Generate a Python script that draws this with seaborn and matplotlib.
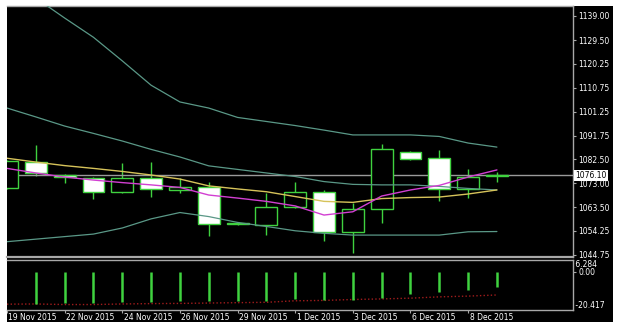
import numpy as np
import pandas as pd
import matplotlib
matplotlib.use("Agg")
import matplotlib.pyplot as plt
import matplotlib.transforms as mtrans
from matplotlib.patches import Rectangle
import seaborn as sns

# ---------------- data ----------------
dates = ["19 Nov 2015", "20 Nov 2015", "22 Nov 2015", "23 Nov 2015", "24 Nov 2015",
         "25 Nov 2015", "26 Nov 2015", "27 Nov 2015", "29 Nov 2015", "30 Nov 2015",
         "1 Dec 2015", "2 Dec 2015", "3 Dec 2015", "4 Dec 2015", "6 Dec 2015",
         "7 Dec 2015", "8 Dec 2015", "9 Dec 2015"]
opens  = [1071.1, 1081.5, 1076.3, 1075.0, 1069.7, 1075.0, 1070.4, 1071.5, 1057.3,
          1056.6, 1063.8, 1069.7, 1053.7, 1062.9, 1085.3, 1082.9, 1070.8, 1076.0]
highs  = [1082.3, 1088.1, 1076.5, 1075.5, 1081.2, 1081.5, 1075.0, 1073.7, 1057.8,
          1069.3, 1073.7, 1070.4, 1065.1, 1088.5, 1085.6, 1086.2, 1078.7, 1077.6]
lows   = [1070.6, 1075.8, 1073.0, 1066.7, 1069.1, 1067.5, 1069.3, 1052.4, 1056.6,
          1052.6, 1063.2, 1050.4, 1045.4, 1057.3, 1082.4, 1066.1, 1067.4, 1073.7]
closes = [1081.8, 1077.2, 1075.4, 1069.7, 1075.0, 1070.7, 1071.7, 1057.0, 1057.0,
          1063.8, 1069.7, 1054.0, 1062.8, 1086.4, 1082.6, 1070.8, 1075.4, 1076.1]

bb_upper = [1155.4, 1146.1, 1138.2, 1130.6, 1121.3, 1111.7, 1105.1, 1102.7, 1099.0,
            1097.4, 1095.8, 1094.0, 1092.1, 1092.1, 1092.1, 1091.5, 1088.9, 1087.3]
bb_mid   = [1102.7, 1099.2, 1095.6, 1092.7, 1089.7, 1086.4, 1083.4, 1079.9, 1078.5,
            1077.1, 1075.7, 1073.7, 1072.6, 1072.4, 1072.4, 1071.8, 1071.0, 1070.4]
bb_lower = [1050.0, 1051.0, 1052.0, 1053.0, 1055.4, 1059.0, 1061.5, 1059.9, 1057.6,
            1056.0, 1054.3, 1053.3, 1052.6, 1052.6, 1052.6, 1052.6, 1053.9, 1054.0]
ma_yellow = [1082.9, 1081.4, 1080.0, 1078.9, 1077.7, 1076.3, 1074.7, 1072.0, 1070.8,
             1069.7, 1067.8, 1065.9, 1065.5, 1067.0, 1067.4, 1067.6, 1068.8, 1070.4]
ma_magenta = [1078.9, 1077.1, 1075.5, 1074.3, 1073.3, 1072.4, 1071.4, 1068.4, 1067.2,
              1065.9, 1064.1, 1060.5, 1061.8, 1068.0, 1070.4, 1072.2, 1075.5, 1078.3]

osc_hist = [np.nan, -17.2, -16.9, -16.7, -16.3, -16.0, -15.5, -15.8, -15.8, -15.5,
            -14.6, -15.0, -15.0, -14.1, -12.0, -10.8, -9.5, -8.1]
osc_signal = [-17.3, -17.2, -17.5, -17.5, -17.2, -17.0, -16.9, -16.7, -16.5, -16.3,
              -15.5, -15.3, -14.8, -14.5, -14.1, -13.4, -13.0, -12.4]

price_ticks = [1139.00, 1129.50, 1120.25, 1110.75, 1101.25, 1091.75, 1082.50,
               1073.00, 1063.50, 1054.25, 1044.75]
last_price = 1076.10
osc_max, osc_min = 6.284, -20.417

df = pd.DataFrame({"i": np.arange(len(dates)), "open": opens, "high": highs,
                   "low": lows, "close": closes, "up": bb_upper, "mid": bb_mid,
                   "lo": bb_lower, "ma1": ma_yellow, "ma2": ma_magenta,
                   "hist": osc_hist, "sig": osc_signal})

# ---------------- style ----------------
sns.set_style("dark", {"axes.facecolor": "black"})
plt.rcParams["font.family"] = ["DejaVu Sans"]
FS = 5.5
GREEN = "#3fd23f"
BAND = "#5a9887"
GRID = "#a8a8a8"

W, H = 620, 331
fig = plt.figure(figsize=(W / 100, H / 100), dpi=100, facecolor="white")
fig.add_artist(Rectangle((7 / W, 1 - 322 / H), (613 - 7) / W, (322 - 6) / H,
                         transform=fig.transFigure, facecolor="black",
                         edgecolor="none", zorder=0))

def fx(px):
    return px / W

def fy(py):
    return 1 - py / H

ax = fig.add_axes([fx(7), fy(257), fx(573 - 7), (257 - 6) / H])
ax2 = fig.add_axes([fx(7), fy(310), fx(573 - 7), (310 - 260) / H])
for a in (ax, ax2):
    a.set_facecolor("black")
    a.set_xlim(0, 19.64)
    a.spines["left"].set_visible(False)
    for s in ("top", "bottom", "right"):
        a.spines[s].set_visible(True)
        a.spines[s].set_color(GRID)
        a.spines[s].set_linewidth(1.0)
    a.grid(False)

ax.set_ylim(1043.96, 1142.94)
ax.spines["bottom"].set_linewidth(1.6)

# ---------------- candles ----------------
bw = 0.76
for r in df.itertuples():
    ax.vlines(r.i, r.low, r.high, color=GREEN, lw=1.0, zorder=2)
    bull = r.close >= r.open
    y0 = min(r.open, r.close)
    h = max(abs(r.close - r.open), 0.05)
    ax.add_patch(Rectangle((r.i - bw / 2, y0), bw, h,
                           facecolor="black" if bull else "white",
                           edgecolor=GREEN, lw=1.0, zorder=3))

ax.axhline(last_price, color="#9a9a9a", lw=1.0, zorder=2.5)

# ---------------- indicator lines ----------------
for col, c, lw in [("up", BAND, 0.9), ("mid", BAND, 0.9), ("lo", BAND, 0.9),
                   ("ma1", "#d6c35a", 1.0), ("ma2", "#d23fd2", 1.0)]:
    sns.lineplot(data=df, x="i", y=col, ax=ax, color=c, lw=lw, zorder=4,
                 legend=False)
ax.set_xlabel("")
ax.set_ylabel("")

# right price axis
ax.yaxis.tick_right()
ax.set_yticks(price_ticks)
ax.set_yticklabels([f"{v:.2f}" for v in price_ticks])
ax.tick_params(axis="y", which="both", right=True, left=False, length=2.5,
               width=0.8, color=GRID, labelcolor="white", labelsize=FS, pad=1.5)
ax.tick_params(axis="x", bottom=False, labelbottom=False)
ax.annotate(f"{last_price:.2f}", xy=(1.0, last_price),
            xycoords=("axes fraction", "data"), xytext=(1.5, 0),
            textcoords="offset points", ha="left", va="center", fontsize=FS,
            color="black",
            bbox=dict(boxstyle="square,pad=0.15", fc="white", ec="none"))

# ---------------- oscillator panel ----------------
ax2.set_ylim(osc_min, osc_max)
ax2.vlines(df["i"], 0, df["hist"], color=GREEN, lw=1.8, zorder=3)
sns.lineplot(data=df, x="i", y="sig", ax=ax2, color="#a01c1c", lw=1.0,
             linestyle=(0, (1, 1.6)), zorder=2, legend=False)
ax2.set_xlabel("")
ax2.set_ylabel("")
ax2.yaxis.tick_right()
ax2.set_yticks([0])
ax2.set_yticklabels(["0.00"])
ax2.tick_params(axis="y", right=True, left=False, length=2.5, width=0.8,
                color=GRID, labelcolor="white", labelsize=FS, pad=1.5)
tr = mtrans.blended_transform_factory(ax2.transAxes, ax2.transData)
ax2.text(1.0, osc_max, " " + f"{osc_max:.3f}", transform=tr, ha="left",
         va="top", fontsize=FS, color="white")
ax2.text(1.0, osc_min, " " + f"{osc_min:.3f}", transform=tr, ha="left",
         va="bottom", fontsize=FS, color="white")

label_idx = [0, 2, 4, 6, 8, 10, 12, 14, 16]
ax2.set_xticks(label_idx)
ax2.set_xticklabels([dates[i] for i in label_idx])
ax2.tick_params(axis="x", bottom=True, length=2.0, width=0.8, color=GRID,
                labelcolor="white", labelsize=FS, pad=0.2)
off = mtrans.ScaledTranslation(1.5 / 100, 0, fig.dpi_scale_trans)
for lab in ax2.get_xticklabels():
    lab.set_horizontalalignment("left")
    lab.set_transform(lab.get_transform() + off)

fig.savefig("out.png", dpi=100, facecolor="white")
